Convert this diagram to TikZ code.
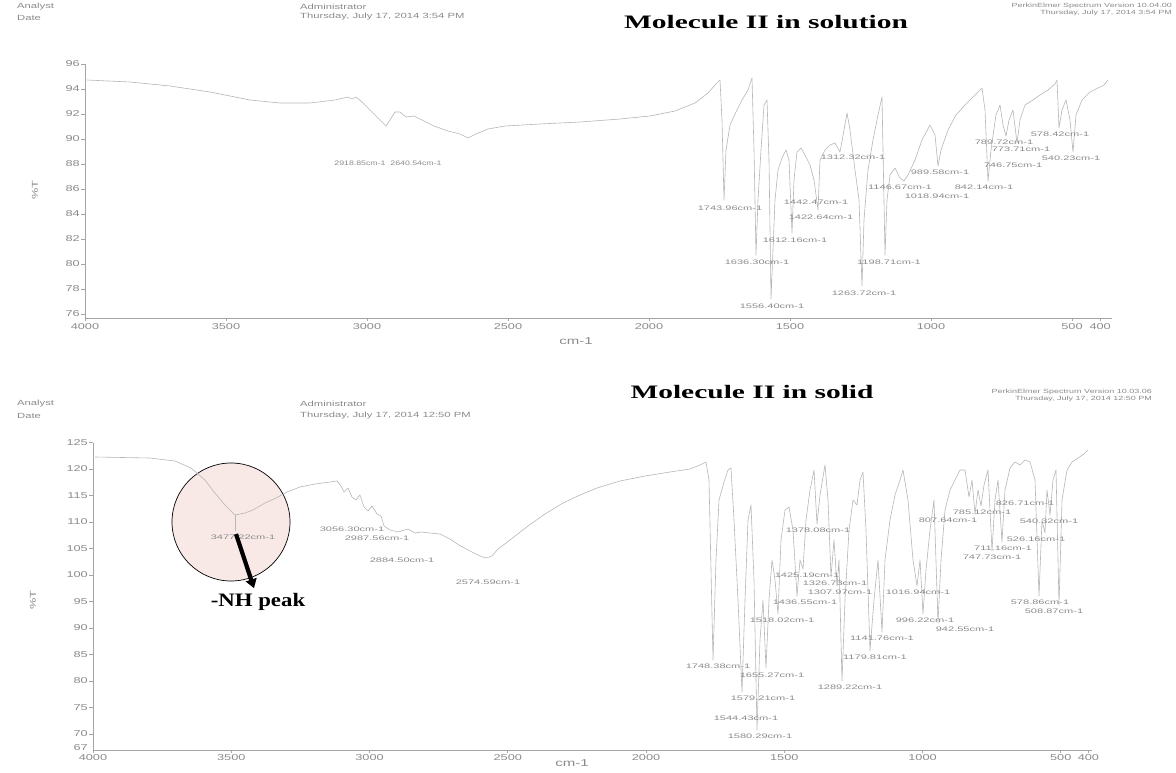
\documentclass[tikz,border=0pt]{standalone}
\usepackage{fontspec}
\setmainfont{Liberation Serif}
\setsansfont{Liberation Sans}
\usepackage{graphicx}
\usetikzlibrary{arrows.meta}
\definecolor{specgray}{RGB}{182,182,182}
\definecolor{txtgray}{RGB}{138,138,138}
\definecolor{axgray}{RGB}{165,165,165}
\definecolor{circfill}{RGB}{248,233,231}
\newcommand{\stx}[2][1.7]{\scalebox{#1}[1]{#2}}
\begin{document}
\begin{tikzpicture}[x=1pt,y=-1pt,
  spec/.style={draw=specgray, line width=0.6pt, line join=round},
  axisline/.style={draw=axgray, line width=0.7pt},
  pk/.style={font=\sffamily\fontsize{6.5}{7}\selectfont, text=txtgray, inner sep=0pt},
  hdr/.style={font=\sffamily\fontsize{7.5}{8}\selectfont, text=txtgray, inner sep=0pt, anchor=west},
  hdrr/.style={font=\sffamily\fontsize{6}{6.5}\selectfont, text=txtgray, inner sep=0pt, anchor=east},
  ticklab/.style={font=\sffamily\fontsize{8.5}{9}\selectfont, text=txtgray, inner sep=0pt},
  title/.style={font=\rmfamily\bfseries\fontsize{19}{20}\selectfont, inner sep=0pt},
  nhbox/.style={circle, draw=black, line width=0.7pt, fill=circfill, minimum size=118pt, inner sep=0pt},
  nharrow/.style={line width=4.2pt, -{Triangle[length=9pt,width=11pt]}},
]
\useasboundingbox (0,0) rectangle (1176,773);

% ================= TOP PANEL =================
\node[hdr] (ta1) at (17,7) {\stx[1.5]{Analyst}};
\node[hdr] (ta2) at (17,18) {\stx[1.5]{Date}};
\node[hdr] (ta3) at (300,7) {\stx[1.5]{Administrator}};
\node[hdr] (ta4) at (300,17) {\stx[1.5]{Thursday, July 17, 2014 3:54 PM}};
\node[title] (ttitle) at (766,22) {\stx[1.55]{Molecule II in solution}};
\node[hdrr] (tp1) at (1172,6) {\stx[1.5]{PerkinElmer Spectrum Version 10.04.00}};
\node[hdrr] (tp2) at (1172,13) {\stx[1.5]{Thursday, July 17, 2014 3:54 PM}};

\draw[axisline] (85,64) -- (85,318) -- (1112,318);
\foreach \v in {96,94,92,90,88,86,84,82,80,78,76}{
  \draw[axisline] (81,{89+(94-\v)*12.5}) -- (85,{89+(94-\v)*12.5});
  \node[ticklab, anchor=east] (tyl\v) at (80,{89+(94-\v)*12.5}) {\stx[1.5]{\v}};
}
\foreach \w in {4000,3500,3000,2500,2000,1500,1000,500,400}{
  \draw[axisline] ({85+(4000-\w)*0.282},318) -- ({85+(4000-\w)*0.282},321);
  \node[ticklab] (txl\w) at ({85+(4000-\w)*0.282},327) {\stx[1.5]{\w}};
}
\node[ticklab, rotate=90] (tyt) at (35,190) {\stx[1.5]{\%T}};
\node[ticklab, font=\sffamily\fontsize{10}{10}\selectfont] (txt) at (576,341) {\stx[1.5]{cm-1}};

\draw[spec] plot coordinates {(87,80) (130,82) (170,86) (210,92) (250,100) (280,103) (310,103) (335,100) (348,97) (352,99) (356,97) (362,102) (370,110) (378,118) (386,126) (390,120) (395,112) (400,112) (406,117) (414,116) (422,120) (434,126) (448,131) (460,134) (468,138) (476,134) (488,129) (505,126) (540,124) (580,122) (620,119) (650,116) (675,111) (695,103) (708,93) (716,84) (720,80) (722,120) (724,200) (726,150) (730,125) (736,112) (742,100) (748,90) (752,78) (754,150) (756,255) (758,200) (761,150) (764,105) (767,100) (769,160) (771,299) (773,250) (775,200) (778,170) (782,158) (786,150) (789,160) (792,233) (794,180) (797,152) (801,148) (805,155) (810,165) (814,180) (818,210) (820,160) (825,150) (830,145) (835,143) (840,152) (844,130) (847,113) (850,130) (855,170) (859,200) (862,286) (864,220) (868,170) (873,140) (878,115) (882,97) (885,255) (887,200) (890,175) (895,168) (900,178) (904,181) (908,175) (915,160) (922,140) (930,125) (935,135) (938,166) (941,150) (948,130) (956,115) (965,105) (975,95) (982,88) (985,110) (988,181) (991,150) (996,115) (1000,105) (1003,125) (1006,136) (1009,120) (1013,110) (1017,143) (1020,120) (1025,105) (1033,100) (1040,95) (1048,90) (1055,84) (1057,80) (1059,128) (1062,110) (1066,100) (1070,120) (1073,152) (1076,115) (1082,100) (1090,92) (1098,88) (1104,85) (1108,80)};

\node[pk] (t1) at (360,163) {\stx[1.35]{2918.85cm-1}};
\node[pk] (t2) at (416,163) {\stx[1.35]{2640.54cm-1}};
\node[pk] (t3) at (730,208) {\stx{1743.96cm-1}};
\node[pk] (t4) at (757,262) {\stx{1636.30cm-1}};
\node[pk] (t5) at (795,240) {\stx{1612.16cm-1}};
\node[pk] (t6) at (772,306) {\stx{1556.40cm-1}};
\node[pk] (t7) at (816,202) {\stx{1442.47cm-1}};
\node[pk] (t8) at (821,217) {\stx{1422.64cm-1}};
\node[pk] (t9) at (853,157) {\stx{1312.32cm-1}};
\node[pk] (t10) at (900,187) {\stx{1146.67cm-1}};
\node[pk] (t11) at (937,196) {\stx{1018.94cm-1}};
\node[pk] (t12) at (940,172) {\stx{989.58cm-1}};
\node[pk] (t13) at (984,187) {\stx{842.14cm-1}};
\node[pk] (t14) at (1004,142) {\stx{789.72cm-1}};
\node[pk] (t15) at (1021,149) {\stx{773.71cm-1}};
\node[pk] (t16) at (1013,165) {\stx{746.75cm-1}};
\node[pk] (t17) at (1060,134) {\stx{578.42cm-1}};
\node[pk] (t18) at (1071,158) {\stx{540.23cm-1}};
\node[pk] (t19) at (889,262) {\stx{1198.71cm-1}};
\node[pk] (t20) at (864,293) {\stx{1263.72cm-1}};

% ================= BOTTOM PANEL =================
\node[hdr] (ba1) at (17,404) {\stx[1.5]{Analyst}};
\node[hdr] (ba2) at (17,416) {\stx[1.5]{Date}};
\node[hdr] (ba3) at (300,404) {\stx[1.5]{Administrator}};
\node[hdr] (ba4) at (300,416) {\stx[1.5]{Thursday, July 17, 2014 12:50 PM}};
\node[title] (btitle) at (752,392) {\stx[1.55]{Molecule II in solid}};
\node[hdrr] (bp1) at (1152,392) {\stx[1.5]{PerkinElmer Spectrum Version 10.03.06}};
\node[hdrr] (bp2) at (1152,399) {\stx[1.5]{Thursday, July 17, 2014 12:50 PM}};

\node[nhbox] (circ) at (231,522) {};

\draw[axisline] (93,443) -- (93,750) -- (1092,750);
\foreach \v in {125,120,115,110,105,100,95,90,85,80,75,70}{
  \draw[axisline] (89,{469+(120-\v)*5.3}) -- (93,{469+(120-\v)*5.3});
  \node[ticklab, anchor=east] (byl\v) at (88,{469+(120-\v)*5.3}) {\stx[1.5]{\v}};
}
\node[ticklab, anchor=east] (byl67) at (88,748) {\stx[1.5]{67}};
\foreach \w in {4000,3500,3000,2500,2000,1500,1000,500,400}{
  \draw[axisline] ({93+(4000-\w)*0.2765},750) -- ({93+(4000-\w)*0.2765},753);
  \node[ticklab] (bxl\w) at ({93+(4000-\w)*0.2765},758) {\stx[1.5]{\w}};
}
\node[ticklab, rotate=90] (byt) at (33,600) {\stx[1.5]{\%T}};
\node[ticklab, font=\sffamily\fontsize{10}{10}\selectfont] (bxt) at (572,763) {\stx[1.5]{cm-1}};

\draw[spec] plot coordinates {(95,457) (150,458) (175,461) (191,468) (205,480) (214,492) (225,505) (235,515) (245,513) (253,510) (265,503) (276,498) (287,492) (300,487) (315,484) (330,482) (337,481) (341,486) (344,492) (348,488) (352,497) (356,500) (360,495) (364,507) (368,511) (372,506) (377,514) (381,516) (384,526) (390,530) (398,532) (408,529) (415,533) (421,532) (430,533) (440,534) (450,539) (459,545) (470,551) (480,556) (486,558) (492,556) (498,549) (510,540) (528,526) (545,514) (563,503) (580,495) (597,488) (620,481) (645,476) (670,472) (690,469) (700,465) (706,462) (709,480) (713,660) (716,560) (719,500) (724,482) (728,470) (731,468) (734,520) (738,600) (742,692) (745,600) (748,520) (751,505) (754,580) (757,730) (760,640) (763,600) (766,668) (769,600) (772,560) (775,580) (778,614) (781,540) (785,510) (789,507) (793,530) (797,596) (800,560) (803,569) (806,520) (810,490) (814,470) (817,524) (820,495) (825,465) (828,500) (831,577) (834,540) (837,586) (839,560) (842,681) (845,600) (849,530) (853,500) (857,505) (860,480) (863,472) (866,530) (870,651) (874,600) (878,560) (882,632) (885,560) (890,520) (895,495) (900,480) (903,470) (908,500) (913,560) (917,586) (920,560) (923,614) (926,570) (930,530) (934,500) (938,623) (941,560) (945,510) (950,490) (955,480) (960,470) (965,470) (969,497) (972,480) (975,514) (978,490) (981,506) (984,485) (988,470) (992,551) (995,500) (998,480) (1002,542) (1005,490) (1010,468) (1015,462) (1020,465) (1025,460) (1030,462) (1035,480) (1039,596) (1042,520) (1045,533) (1047,490) (1050,515) (1053,480) (1056,470) (1059,605) (1062,500) (1067,470) (1072,462) (1078,458) (1084,454) (1088,450)};
\draw[spec] (235,515) -- (235,531);

\node[pk] (b1) at (243,537) {\stx{3477.22cm-1}};
\node[pk] (b2) at (352,529) {\stx{3056.30cm-1}};
\node[pk] (b3) at (377,538) {\stx{2987.56cm-1}};
\node[pk] (b4) at (402,560) {\stx{2884.50cm-1}};
\node[pk] (b5) at (488,582) {\stx{2574.59cm-1}};
\node[pk] (b6) at (818,530) {\stx{1378.08cm-1}};
\node[pk] (b7) at (1025,503) {\stx{826.71cm-1}};
\node[pk] (b8) at (982,512) {\stx{785.12cm-1}};
\node[pk] (b9) at (948,520) {\stx{807.64cm-1}};
\node[pk] (b10) at (1049,521) {\stx{540.32cm-1}};
\node[pk] (b11) at (1036,539) {\stx{526.16cm-1}};
\node[pk] (b12) at (1003,548) {\stx{711.16cm-1}};
\node[pk] (b13) at (992,557) {\stx{747.73cm-1}};
\node[pk] (b14) at (807,575) {\stx{1425.19cm-1}};
\node[pk] (b15) at (835,583) {\stx{1326.73cm-1}};
\node[pk] (b16) at (840,592) {\stx{1307.97cm-1}};
\node[pk] (b17) at (918,592) {\stx{1016.94cm-1}};
\node[pk] (b18) at (805,602) {\stx{1436.55cm-1}};
\node[pk] (b19) at (925,620) {\stx{996.22cm-1}};
\node[pk] (b20) at (782,620) {\stx{1518.02cm-1}};
\node[pk] (b21) at (965,629) {\stx{942.55cm-1}};
\node[pk] (b22) at (882,638) {\stx{1141.76cm-1}};
\node[pk] (b23) at (875,657) {\stx{1179.81cm-1}};
\node[pk] (b24) at (718,666) {\stx{1748.38cm-1}};
\node[pk] (b25) at (772,675) {\stx{1655.27cm-1}};
\node[pk] (b26) at (1040,602) {\stx{578.86cm-1}};
\node[pk] (b27) at (1054,611) {\stx{508.87cm-1}};
\node[pk] (b28) at (850,687) {\stx{1289.22cm-1}};
\node[pk] (b29) at (763,698) {\stx{1579.21cm-1}};
\node[pk] (b30) at (746,718) {\stx{1544.43cm-1}};
\node[pk] (b31) at (760,736) {\stx{1580.29cm-1}};

\node[font=\rmfamily\bfseries\fontsize{19}{20}\selectfont, inner sep=0pt] (nh) at (258,602) {\stx[1.2]{-NH peak}};
\coordinate (arrS) at (236,534);
\draw[nharrow] (arrS) -- ([xshift=-4pt,yshift=5pt]nh.north);
\end{tikzpicture}
\end{document}
